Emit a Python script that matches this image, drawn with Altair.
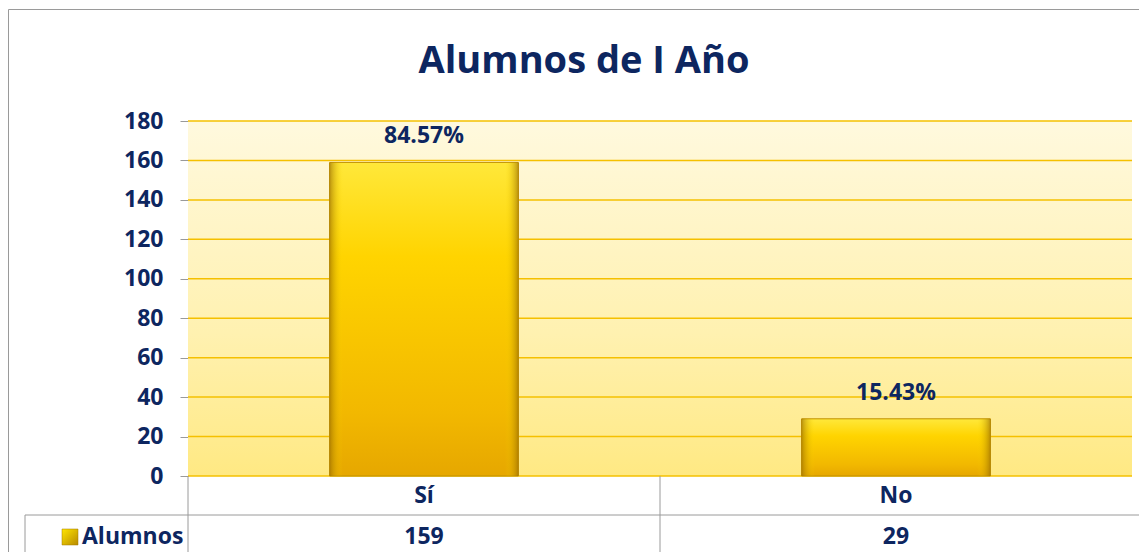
import altair as alt
import pandas as pd

# ---- data ----
categories = ["Sí", "No"]
values = [159, 29]
pct_labels = ["84.57%", "15.43%"]
series_name = "Alumnos"
chart_title = "Alumnos de I Año"
y_ticks = [0, 20, 40, 60, 80, 100, 120, 140, 160, 180]

df = pd.DataFrame({"cat": categories, "val": values, "pct": pct_labels})
ticks_df = pd.DataFrame({"val": y_ticks})
one = pd.DataFrame({"k": [0]})

# ---- layout ----
W, H = 944, 355
PL, PT, PR, PB = 180, 113, 7, 76
NAVY = "#0D2660"
FONT = "Open Sans"
FS = 23
FW = 700
GRAY = "#9A9A9A"

xscale = alt.Scale(domain=categories, paddingInner=0, paddingOuter=0)
yscale = alt.Scale(domain=[0, 180])

x_axis = alt.Axis(title=None, labelAngle=0, labelFont=FONT, labelFontSize=FS,
                  labelFontWeight=FW, labelColor=NAVY, labelPadding=19,
                  labelBaseline="middle", ticks=False, tickSize=0,
                  domain=False, grid=False)
y_axis = alt.Axis(title=None, values=y_ticks, labelFont=FONT, labelFontSize=FS,
                  labelFontWeight=FW, labelColor=NAVY, labelPadding=17,
                  tickSize=8, tickColor=GRAY, domainColor=GRAY, grid=False)

bg_grad = alt.LinearGradient(gradient="linear", x1=0, x2=0, y1=0, y2=1,
                             stops=[alt.GradientStop(color="#FFF9DE", offset=0),
                                    alt.GradientStop(color="#FFF1B0", offset=0.6),
                                    alt.GradientStop(color="#FFE983", offset=1)])
bar_grad = alt.LinearGradient(gradient="linear", x1=0, x2=0, y1=0, y2=1,
                              stops=[alt.GradientStop(color="#FFE83A", offset=0),
                                     alt.GradientStop(color="#FFD400", offset=0.3),
                                     alt.GradientStop(color="#F2B800", offset=0.8),
                                     alt.GradientStop(color="#E6A700", offset=1)])
edge_grad = alt.LinearGradient(gradient="linear", x1=0, x2=1, y1=0, y2=0,
                               stops=[alt.GradientStop(color="rgba(150,105,0,0.65)", offset=0),
                                      alt.GradientStop(color="rgba(255,220,0,0)", offset=0.07),
                                      alt.GradientStop(color="rgba(255,220,0,0)", offset=0.93),
                                      alt.GradientStop(color="rgba(150,105,0,0.65)", offset=1)])
sq_grad = alt.LinearGradient(gradient="linear", x1=0, x2=1, y1=0, y2=1,
                             stops=[alt.GradientStop(color="#FFE500", offset=0),
                                    alt.GradientStop(color="#B88A00", offset=1)])

base = alt.Chart(df)
X = alt.X("cat:N", sort=categories, scale=xscale, axis=x_axis)
Y = alt.Y("val:Q", scale=yscale, axis=y_axis)

bg = alt.Chart(one).mark_rect(fill=bg_grad).encode(
    x=alt.value(0), x2=alt.value(W), y=alt.value(0), y2=alt.value(H))

grid = alt.Chart(ticks_df).mark_rule(color="#F5C000", strokeWidth=1.5).encode(y=Y)

bars = base.mark_bar(width=alt.RelativeBandSize(0.4), fill=bar_grad,
                     stroke="#C09000", strokeWidth=1).encode(x=X, y=Y)
bar_edges = base.mark_bar(width=alt.RelativeBandSize(0.4), fill=edge_grad).encode(x=X, y=Y)

pct = base.mark_text(font=FONT, fontSize=FS, fontWeight=FW, color=NAVY,
                     baseline="middle", dy=-26).encode(x=X, y=Y, text="pct:N")

vals = base.mark_text(font=FONT, fontSize=FS, fontWeight=FW, color=NAVY,
                      baseline="middle").encode(x=X, y=alt.value(H + 61), text="val:Q")

# table lines
RIGHT = W + PR + 20
BOTTOM = H + PB + 20
line = dict(color=GRAY, strokeWidth=1)
h_row = alt.Chart(one).mark_rule(**line).encode(
    x=alt.value(-163), x2=alt.value(RIGHT), y=alt.value(H + 39), y2=alt.value(H + 39))
v_left = alt.Chart(one).mark_rule(**line).encode(
    x=alt.value(-163), x2=alt.value(-163), y=alt.value(H + 39), y2=alt.value(BOTTOM))
v_axis = alt.Chart(one).mark_rule(**line).encode(
    x=alt.value(0), x2=alt.value(0), y=alt.value(H), y2=alt.value(BOTTOM))
v_mid = alt.Chart(one).mark_rule(**line).encode(
    x=alt.value(W / 2), x2=alt.value(W / 2), y=alt.value(H), y2=alt.value(BOTTOM))

legend_sq = alt.Chart(one).mark_rect(fill=sq_grad, stroke="#A07800", strokeWidth=0.5).encode(
    x=alt.value(-126), x2=alt.value(-110), y=alt.value(H + 53), y2=alt.value(H + 69))
legend_txt = alt.Chart(one).mark_text(font=FONT, fontSize=FS, fontWeight=FW, color=NAVY,
                                      align="left", baseline="middle", text=series_name).encode(
    x=alt.value(-106), y=alt.value(H + 61))

title = alt.Chart(one).mark_text(font=FONT, fontSize=38, fontWeight=FW, color=NAVY,
                                 align="center", baseline="middle", text=chart_title).encode(
    x=alt.value(396), y=alt.value(-59))

border = alt.Chart(one).mark_rect(fill=None, stroke=GRAY, strokeWidth=1).encode(
    x=alt.value(-179.5), x2=alt.value(RIGHT), y=alt.value(-111.5), y2=alt.value(BOTTOM))

chart = alt.layer(
    bg, grid, bars, bar_edges, pct, vals, h_row, v_left, v_axis, v_mid,
    legend_sq, legend_txt, title, border
).properties(
    width=W, height=H,
    autosize=alt.AutoSizeParams(type="none"),
    padding={"left": PL, "top": PT, "right": PR, "bottom": PB},
    background="white",
).configure_view(stroke=None)

chart.save("out.html", embed_options={"renderer": "svg", "actions": False})
